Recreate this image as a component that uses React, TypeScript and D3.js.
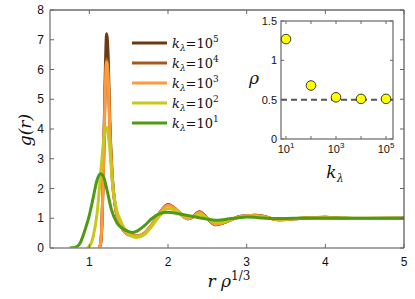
import React from 'react';
import * as d3 from 'd3';

// g(r) curves
const kLabels = ['5', '4', '3', '2', '1'];
const colors = ['#6b3a12', '#a9581c', '#ff9a3c', '#c8c81a', '#4e9a12'];

const xHigh = [1.12, 1.14, 1.16, 1.18, 1.2, 1.22, 1.24, 1.26, 1.29, 1.33, 1.4, 1.5, 1.6, 1.7, 1.8, 1.9, 2.0, 2.1, 2.2, 2.25, 2.3, 2.4, 2.5, 2.6, 2.7, 2.8, 2.9, 3.0, 3.1, 3.2, 3.3, 3.4, 3.5, 3.6, 3.8, 4.0, 4.2, 4.5, 5.0];
const g1e5 = [0, 0.1, 0.8, 2.8, 5.6, 7.2, 6.4, 4.3, 2.5, 1.4, 0.75, 0.45, 0.4, 0.5, 0.8, 1.2, 1.46, 1.3, 1.05, 0.98, 1.02, 1.22, 1.0, 0.78, 0.84, 0.95, 1.05, 1.08, 1.1, 1.08, 1.0, 0.95, 0.96, 0.98, 1.02, 1.03, 1.0, 0.99, 1.0];
const g1e4 = [0, 0.1, 0.8, 2.7, 5.2, 6.35, 5.8, 4.1, 2.4, 1.4, 0.75, 0.45, 0.4, 0.5, 0.8, 1.2, 1.45, 1.3, 1.05, 0.98, 1.02, 1.2, 1.0, 0.79, 0.85, 0.95, 1.05, 1.08, 1.1, 1.07, 1.0, 0.95, 0.96, 0.98, 1.02, 1.03, 1.0, 0.99, 1.0];
const g1e3 = [0, 0.12, 0.85, 2.7, 5.1, 6.25, 5.7, 4.0, 2.4, 1.4, 0.75, 0.45, 0.4, 0.5, 0.8, 1.2, 1.44, 1.3, 1.05, 0.98, 1.02, 1.19, 1.0, 0.8, 0.85, 0.95, 1.04, 1.08, 1.09, 1.07, 1.0, 0.96, 0.96, 0.98, 1.02, 1.02, 1.0, 0.99, 1.0];

const x1e2 = [0.97, 1.0, 1.05, 1.1, 1.15, 1.2, 1.22, 1.25, 1.3, 1.35, 1.4, 1.5, 1.6, 1.7, 1.8, 1.9, 2.0, 2.1, 2.2, 2.3, 2.4, 2.5, 2.6, 2.7, 2.8, 2.9, 3.0, 3.1, 3.2, 3.3, 3.4, 3.5, 3.6, 3.8, 4.0, 4.5, 5.0];
const g1e2 = [0, 0.05, 0.4, 1.2, 2.7, 3.95, 4.05, 3.6, 2.0, 1.25, 0.9, 0.48, 0.35, 0.45, 0.75, 1.1, 1.33, 1.25, 1.07, 1.05, 1.12, 1.0, 0.87, 0.88, 0.97, 1.03, 1.07, 1.07, 1.04, 1.0, 0.97, 0.97, 0.99, 1.01, 1.02, 1.0, 1.0];

const x1e1 = [0.75, 0.82, 0.88, 0.95, 1.0, 1.05, 1.1, 1.14, 1.18, 1.22, 1.28, 1.35, 1.4, 1.5, 1.55, 1.6, 1.7, 1.8, 1.9, 2.0, 2.1, 2.2, 2.3, 2.4, 2.5, 2.6, 2.7, 2.8, 2.9, 3.0, 3.1, 3.2, 3.4, 3.6, 4.0, 4.5, 5.0];
const g1e1 = [0, 0.02, 0.15, 0.65, 1.1, 1.7, 2.3, 2.5, 2.4, 2.0, 1.3, 0.85, 0.7, 0.55, 0.52, 0.56, 0.75, 1.0, 1.16, 1.2, 1.17, 1.12, 1.07, 1.02, 0.97, 0.93, 0.95, 0.99, 1.02, 1.04, 1.03, 1.01, 0.99, 1.0, 1.0, 1.0, 1.0];

const seriesX = [xHigh, xHigh, xHigh, x1e2, x1e1];
const seriesY = [g1e5, g1e4, g1e3, g1e2, g1e1];

// inset: rho vs k_lambda
const kVals = [1e1, 1e2, 1e3, 1e4, 1e5];
const rhoVals = [1.27, 0.68, 0.53, 0.51, 0.51];

const xTicks = [1, 2, 3, 4, 5];
const yTicks = [0, 1, 2, 3, 4, 5, 6, 7, 8];
const insetYTicks = [0, 0.5, 1, 1.5];

const W = 415, H = 299;
const sans = 'Liberation Sans, Arial, sans-serif';
const serif = 'DejaVu Serif, Liberation Serif, serif';

export default function App() {
  const m = { left: 50, right: 404, top: 10, bottom: 248 };
  const x = d3.scaleLinear().domain([0.5, 5]).range([m.left, m.right]);
  const y = d3.scaleLinear().domain([0, 8]).range([m.bottom, m.top]);
  const line = d3.line<[number, number]>().x(d => x(d[0])).y(d => y(d[1])).curve(d3.curveMonotoneX);

  const ins = { left: 281, right: 393, top: 21, bottom: 139 };
  const ix = d3.scaleLog().domain([10 ** 0.8, 10 ** 5.28]).range([ins.left, ins.right]);
  const iy = d3.scaleLinear().domain([0, 1.5]).range([ins.bottom, ins.top]);

  return (
    <svg width={W} height={H} style={{ position: 'absolute', left: 0, top: 0, background: '#fff' }}>
      <defs>
        <clipPath id="plotclip">
          <rect x={m.left} y={m.top} width={m.right - m.left} height={m.bottom - m.top} />
        </clipPath>
      </defs>

      {/* curves */}
      <g clipPath="url(#plotclip)">
        {seriesY.map((ys, i) => (
          <path key={i} d={line(ys.map((v, j) => [seriesX[i][j], v]) as [number, number][]) || ''}
            fill="none" stroke={colors[i]} strokeWidth={3} strokeLinejoin="round" />
        ))}
      </g>

      {/* main axes box */}
      <line x1={m.left} x2={m.right} y1={m.top} y2={m.top} stroke="#222" />
      <line x1={m.right} x2={m.right} y1={m.top} y2={m.bottom} stroke="#333" />
      <line x1={m.left} x2={m.left} y1={m.top} y2={m.bottom} stroke="#888" strokeWidth={1.5} />
      <line x1={m.left} x2={m.right} y1={m.bottom} y2={m.bottom} stroke="#888" strokeWidth={1.5} />

      {xTicks.map(t => (
        <g key={'xt' + t}>
          <line x1={x(t)} x2={x(t)} y1={m.bottom} y2={m.bottom - 4} stroke="#666" />
          <line x1={x(t)} x2={x(t)} y1={m.top} y2={m.top + 4} stroke="#666" />
          <text x={x(t)} y={m.bottom + 18} textAnchor="middle" fontFamily={sans} fontSize={12} fill="#111">{t}</text>
        </g>
      ))}
      {yTicks.map(t => (
        <g key={'yt' + t}>
          <line x1={m.left} x2={m.left + 4} y1={y(t)} y2={y(t)} stroke="#666" />
          <line x1={m.right} x2={m.right - 4} y1={y(t)} y2={y(t)} stroke="#666" />
          <text x={m.left - 6} y={y(t) + 4} textAnchor="end" fontFamily={sans} fontSize={12} fill="#111">{t}</text>
        </g>
      ))}

      {/* axis labels */}
      <text transform={`translate(31,130) rotate(-90)`} textAnchor="middle" fontFamily={serif} fontStyle="italic" fontSize={17} fill="#111">
        g(r)
      </text>
      <text x={229} y={287} textAnchor="middle" fontFamily={serif} fontSize={17} fill="#111">
        <tspan fontStyle="italic">r ρ</tspan>
        <tspan fontSize={12} dy={-7}>1/3</tspan>
      </text>

      {/* legend */}
      {kLabels.map((k, i) => {
        const ly = 43 + i * 20;
        return (
          <g key={'lg' + k}>
            <line x1={132} x2={167} y1={ly} y2={ly} stroke={colors[i]} strokeWidth={3} />
            <text x={172} y={ly + 5} fontFamily={serif} fontSize={13} fill="#111">
              <tspan fontStyle="italic">k</tspan>
              <tspan fontSize={9} fontStyle="italic" dy={3}>λ</tspan>
              <tspan dy={-3}>=10</tspan>
              <tspan fontSize={9} dy={-6}>{k}</tspan>
            </text>
          </g>
        );
      })}

      {/* inset */}
      <rect x={ins.left} y={ins.top} width={ins.right - ins.left} height={ins.bottom - ins.top} fill="#fff" stroke="#666" strokeWidth={1.2} />
      {kVals.map((k, i) => (
        <g key={'ixt' + i}>
          <line x1={ix(k)} x2={ix(k)} y1={ins.bottom} y2={ins.bottom - 3} stroke="#666" />
          <line x1={ix(k)} x2={ix(k)} y1={ins.top} y2={ins.top + 3} stroke="#666" />
          {i % 2 === 0 && (
            <text x={ix(k)} y={ins.bottom + 14} textAnchor="middle" fontFamily={sans} fontSize={11} fill="#111">
              10<tspan fontSize={8} dy={-5}>{i + 1}</tspan>
            </text>
          )}
        </g>
      ))}
      {insetYTicks.map(t => (
        <g key={'iyt' + t}>
          <line x1={ins.left} x2={ins.left + 3} y1={iy(t)} y2={iy(t)} stroke="#666" />
          <line x1={ins.right} x2={ins.right - 3} y1={iy(t)} y2={iy(t)} stroke="#666" />
          <text x={ins.left - 4} y={iy(t) + 4} textAnchor="end" fontFamily={sans} fontSize={11} fill="#111">{t}</text>
        </g>
      ))}
      <line x1={ins.left} x2={ins.right} y1={iy(0.5)} y2={iy(0.5)} stroke="#555" strokeWidth={2} strokeDasharray="6,4" />
      {kVals.map((k, i) => (
        <circle key={'pt' + i} cx={ix(k)} cy={iy(rhoVals[i])} r={4.8} fill="#ffff00" stroke="#222" strokeWidth={0.9} />
      ))}
      <text x={254} y={84} textAnchor="middle" fontFamily={serif} fontStyle="italic" fontSize={17} fill="#111">ρ</text>
      <text x={335} y={178} textAnchor="middle" fontFamily={serif} fontSize={17} fill="#111">
        <tspan fontStyle="italic">k</tspan>
        <tspan fontSize={11} fontStyle="italic" dy={4}>λ</tspan>
      </text>
    </svg>
  );
}
